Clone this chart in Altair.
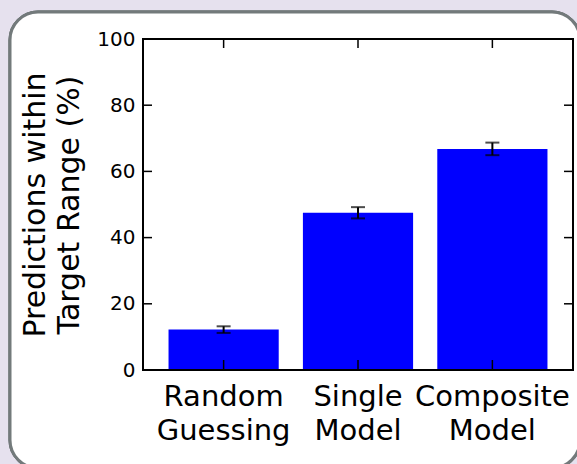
import altair as alt
import pandas as pd

# Share of predictions that fall inside the target range, per method
categories = ["Random Guessing", "Single Model", "Composite Model"]
values = [12.2, 47.5, 66.8]
errors = [1.0, 1.7, 1.9]
y_ticks = [0, 20, 40, 60, 80, 100]

W, H = 430, 331
FONT = "DejaVu Sans"

bars_df = pd.DataFrame({
    "cat": categories,
    "value": values,
    "lo": [v - e for v, e in zip(values, errors)],
    "hi": [v + e for v, e in zip(values, errors)],
})
caps_df = pd.DataFrame({
    "cat": categories * 2,
    "value": [v - e for v, e in zip(values, errors)] + [v + e for v, e in zip(values, errors)],
})
ticks_df = pd.DataFrame({"value": y_ticks})
cats_df = pd.DataFrame({"cat": categories})

x_scale = alt.Scale(domain=categories, paddingInner=0.18, paddingOuter=0.19)
y_scale = alt.Scale(domain=[0, 100], nice=False)

# axes sit above the white panel (zindex 1)
x_axis = alt.Axis(
    title=None, ticks=False, domain=False, labelAngle=0, zindex=1,
    labelFontSize=29, labelFont=FONT, labelColor="black",
    labelLineHeight=34, labelPadding=12,
    labelExpr="split(datum.label, ' ')",
)
y_axis = alt.Axis(
    values=y_ticks, ticks=False, domain=False, grid=False, zindex=1,
    labelFontSize=20, labelFont=FONT, labelColor="black", labelPadding=8,
    title=["Predictions within", "Target Range (%)"],
    titleFontSize=30, titleFont=FONT, titleFontWeight="normal",
    titleColor="black", titleLineHeight=34, titlePadding=12,
)

x_enc = alt.X("cat:N", scale=x_scale, sort=categories, axis=x_axis)


def y_enc(field):
    return alt.Y(f"{field}:Q", scale=y_scale, axis=y_axis)


# rounded white panel behind the plot
panel = alt.Chart(cats_df).mark_rect(
    fill="white", stroke="#737a7b", strokeWidth=3, cornerRadius=28
).encode(
    x=alt.value(-133), x2=alt.value(437), y=alt.value(-27), y2=alt.value(429)
)

bars = alt.Chart(bars_df).mark_bar(color="#0000ff").encode(
    x=x_enc, y=y_enc("value")
)

err_line = alt.Chart(bars_df).mark_rule(color="black", strokeWidth=2).encode(
    x=x_enc, y=y_enc("lo"), y2="hi:Q"
)

err_caps = alt.Chart(caps_df).mark_tick(
    color="black", size=14, thickness=2, orient="horizontal"
).encode(x=x_enc, y=y_enc("value"))

# inward-pointing ticks on all four sides
tick_left = alt.Chart(ticks_df).mark_rule(color="black", strokeWidth=1.5).encode(
    y=y_enc("value"), x=alt.value(0), x2=alt.value(9)
)
tick_right = alt.Chart(ticks_df).mark_rule(color="black", strokeWidth=1.5).encode(
    y=y_enc("value"), x=alt.value(W - 9), x2=alt.value(W)
)
tick_top = alt.Chart(cats_df).mark_rule(color="black", strokeWidth=1.5).encode(
    x=x_enc, y=alt.value(0), y2=alt.value(9)
)
tick_bottom = alt.Chart(cats_df).mark_rule(color="black", strokeWidth=1.5).encode(
    x=x_enc, y=alt.value(H - 10), y2=alt.value(H)
)

frame = alt.Chart(cats_df).mark_rect(
    fillOpacity=0, stroke="black", strokeWidth=2
).encode(
    x=alt.value(0), x2=alt.value(W), y=alt.value(0), y2=alt.value(H)
)

chart = alt.layer(
    panel, bars, err_line, err_caps,
    tick_left, tick_right, tick_top, tick_bottom, frame,
).properties(
    width=W, height=H,
    autosize=alt.AutoSizeParams(type="none"),
    padding={"left": 143, "top": 39, "right": 4, "bottom": 94},
    background="#e6e1ee",
).configure_view(stroke=None)

chart.save("out.html", embed_options={"renderer": "svg", "actions": False})
